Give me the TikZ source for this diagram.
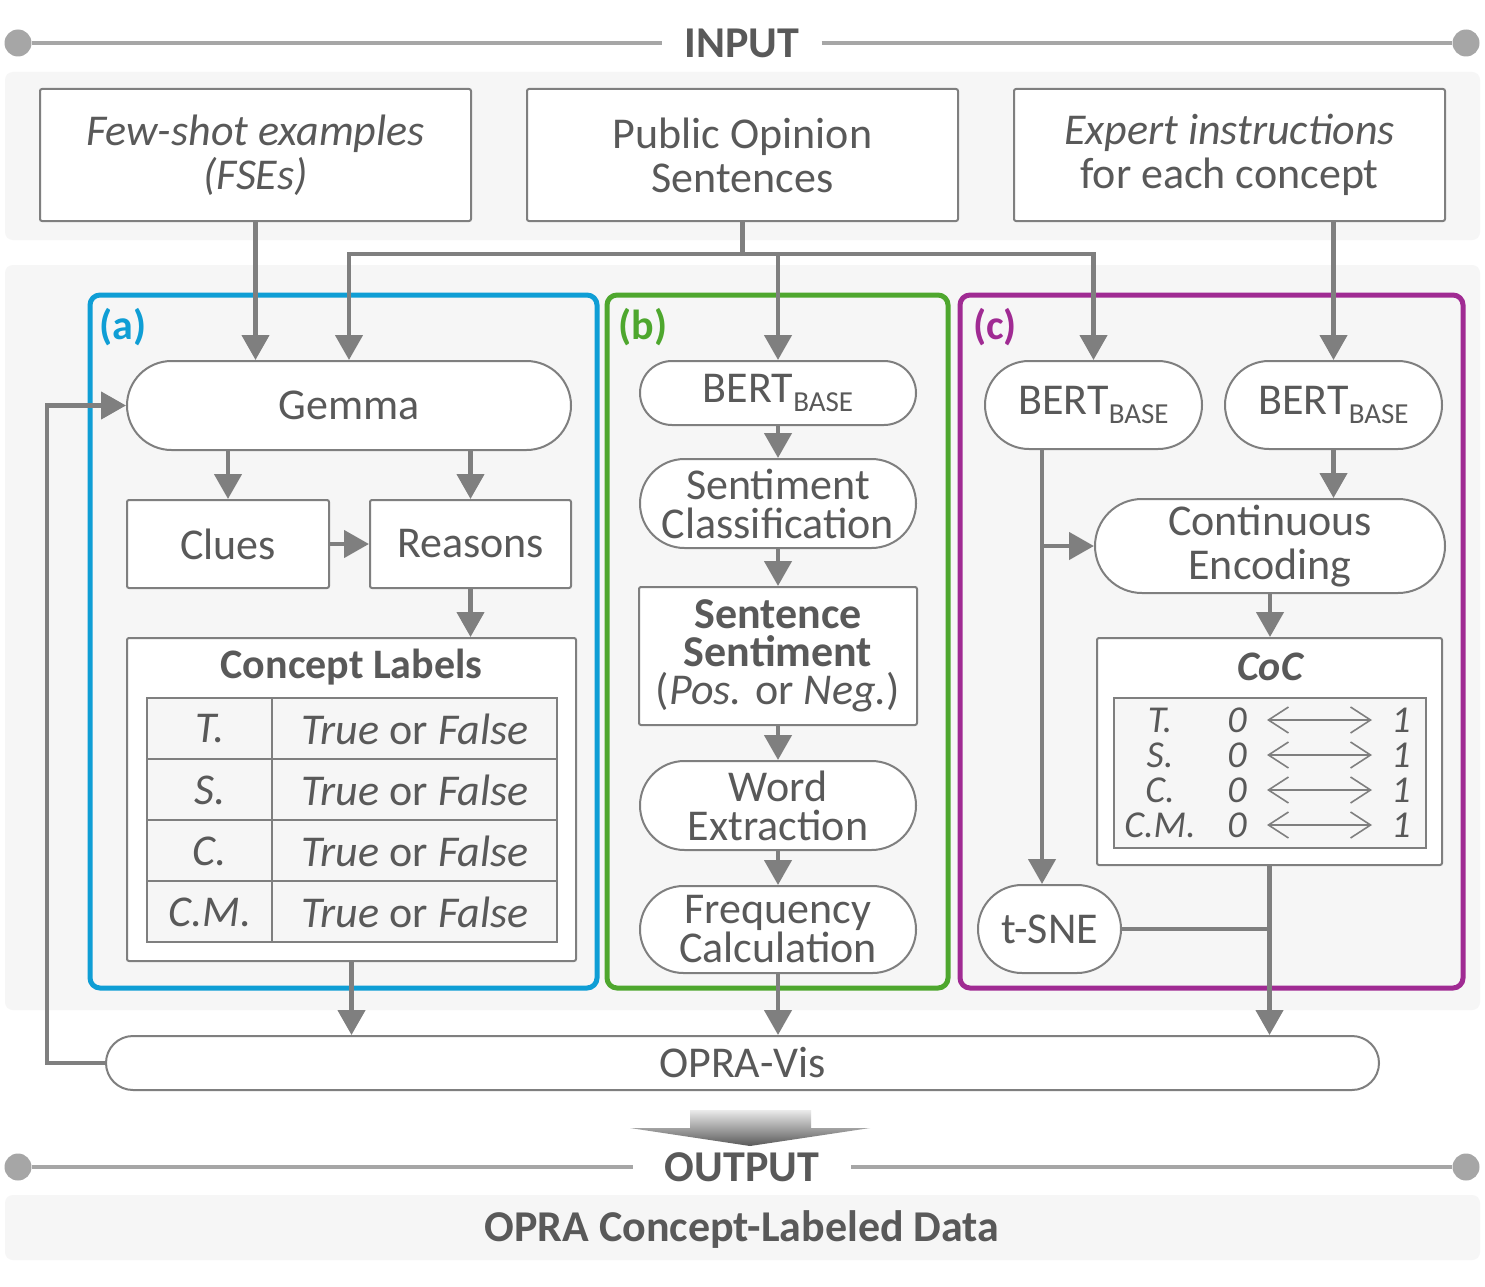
\documentclass[tikz,border=0pt]{standalone}
\usepackage{fontspec}
\setmainfont{Carlito}
\usetikzlibrary{arrows.meta,shapes.misc,calc}
\definecolor{txt}{HTML}{595959}
\definecolor{ln}{HTML}{7F7F7F}
\definecolor{hdr}{HTML}{A6A6A6}
\definecolor{bg}{HTML}{F6F6F6}
\definecolor{cA}{HTML}{0F9ED5}
\definecolor{cB}{HTML}{4EA72E}
\definecolor{cC}{HTML}{A02B93}
\newcommand{\fsz}[2]{\fontsize{#1}{#2}\selectfont}
\newcommand{\bertbase}{BERT\raisebox{-9pt}{\fsz{29}{29}BASE}}
\tikzset{
  box/.style={draw=ln, line width=2pt, fill=white, rounded corners=2pt, inner sep=0pt,
    align=center, text=txt, font=\fsz{44}{44}},
  pill/.style={draw=ln, line width=2pt, fill=white, rounded rectangle, inner sep=0pt,
    align=center, text=txt, font=\fsz{44}{44}},
  tpill/.style={pill, font=\fsz{44}{39}},
  arr/.style={draw=ln, line width=4.5pt, -{Triangle[width=27pt,length=25pt]}},
  lnk/.style={draw=ln, line width=4.5pt},
  band/.style={fill=bg, rounded corners=8pt},
  frame/.style={line width=5pt, rounded corners=10pt},
  hline/.style={draw=hdr, line width=4.5pt},
  dot/.style={circle, fill=hdr, minimum size=27pt, inner sep=0pt},
  hdrtext/.style={text=txt, font=\bfseries\fsz{44}{44}},
  lbl/.style={font=\bfseries\fsz{42}{42}},
  cell/.style={text=txt, font=\itshape\fsz{44}{44}, inner sep=0pt},
  coccell/.style={text=txt, font=\itshape\fsz{38}{38}, inner sep=0pt},
  dbl/.style={draw=ln, line width=1.6pt, {Straight Barb[length=20pt,width=26pt,line width=1.6pt]}-{Straight Barb[length=20pt,width=26pt,line width=1.6pt]}},
}
\begin{document}
\begin{tikzpicture}[x=1pt,y=-1pt]
\useasboundingbox (0,0) rectangle (1485,1287);
\fill[white] (0,0) rectangle (1485,1287);

% bands
\fill[band] (5,72) rectangle (1480,240);
\fill[band] (5,265) rectangle (1480,1010);
\fill[band] (5,1195) rectangle (1480,1260);

% INPUT header
\node[dot] (inl) at (18,43) {};
\node[dot] (inr) at (1466,43) {};
\node[hdrtext, inner xsep=22pt] (inT) at (742,43) {INPUT};
\draw[hline] (inl) -- (inT) (inT) -- (inr);

% input boxes
\node[box, minimum width=431, minimum height=132] (fse) at (255.5,155)
  {\textit{Few-shot examples}\\\textit{(FSEs)}};
\node[box, minimum width=431, minimum height=132] (pos) at (742.5,155)
  {Public Opinion\\Sentences};
\node[box, minimum width=431, minimum height=132] (exp) at (1229.5,155)
  {\textit{Expert instructions}\\for each concept};

% frames
\draw[frame, cA] (90,295) rectangle (597,988);
\draw[frame, cB] (607,295) rectangle (948,988);
\draw[frame, cC] (960,295) rectangle (1463,988);
\node[lbl, text=cA] (la) at (123,327) {(a)};
\node[lbl, text=cB] (lb) at (643,327) {(b)};
\node[lbl, text=cC] (lc) at (995,327) {(c)};

% (a)
\node[pill, minimum width=444, minimum height=89] (gemma) at (349,405.5) {Gemma};
\node[box, minimum width=202, minimum height=88] (clues) at (228,544) {Clues};
\node[box, minimum width=201, minimum height=88] (reasons) at (470.5,544) {Reasons};
\node[box, minimum width=449, minimum height=323] (cl) at (351.5,799.5) {};
\node[text=txt, font=\bfseries\fsz{42}{42}] (clt) at (351.5,667) {Concept Labels};
\node[draw=ln, line width=2pt, fill=bg, minimum width=410, minimum height=244, inner sep=0pt] (tbl) at (352,820) {};
\draw[ln, line width=2pt] (147,759) -- (557,759) (147,820) -- (557,820) (147,881) -- (557,881)
  (272,698) -- (272,942);
\foreach \k/\t [count=\i from 0] in {t/T., s/S., c/C., cm/C.M.}{
  \node[cell] (lab\k) at (210,729+61*\i) {\t};
  \node[cell] (val\k) at (415,729+61*\i) {True \textup{or} False};
}

% (b)
\node[pill, minimum width=276, minimum height=64] (bertb) at (778,393) {\bertbase};
\node[tpill, minimum width=276, minimum height=89] (sc) at (778,503.5) {Sentiment\\Classification};
\node[box, minimum width=278, minimum height=138, font=\fsz{44}{38}] (ss) at (778,656)
  {\textbf{Sentence}\\\textbf{Sentiment}\\(\textit{Pos.} or \textit{Neg.})};
\node[tpill, minimum width=276, minimum height=89] (we) at (778,805.5) {Word\\Extraction};
\node[tpill, minimum width=276, minimum height=87] (fc) at (778,929.5) {Frequency\\Calculation};

% (c)
\node[pill, minimum width=217, minimum height=88] (bert1) at (1093.5,405) {\bertbase};
\node[pill, minimum width=217, minimum height=88] (bert2) at (1333.5,405) {\bertbase};
\node[pill, minimum width=350, minimum height=94] (ce) at (1270,546) {Continuous\\Encoding};
\node[box, minimum width=345, minimum height=227] (cocbox) at (1269.5,751.5) {};
\node[text=txt, font=\bfseries\itshape\fsz{42}{42}] (coct) at (1270,667) {CoC};
\node[draw=ln, line width=2pt, fill=bg, minimum width=312, minimum height=150, inner sep=0pt] (coctbl) at (1269.5,772.5) {};
\foreach \k/\t [count=\i from 0] in {t/T., s/S., c/C., cm/C.M.}{
  \node[coccell] (cname\k) at (1160,720+35*\i) {\t};
  \node[coccell] (czero\k) at (1237,720+35*\i) {0};
  \node[coccell] (cone\k) at (1401,720+35*\i) {1};
  \draw[dbl] (1267,720+35*\i) -- (1372,720+35*\i);
}
\node[pill, minimum width=143, minimum height=88] (tsne) at (1049.5,929) {t-SNE};

% OPRA-Vis
\node[pill, minimum width=1273, minimum height=54] (opra) at (742.5,1063) {OPRA-Vis};

% connectors
\coordinate (hub) at (742.5,254);
\draw[arr] (fse.south) -- (fse.south |- gemma.north);
\draw[lnk] (pos.south) -- (hub);
\draw[arr] (hub) -| (gemma.north);
\draw[arr] (hub) -| (bertb.north);
\draw[arr] (hub) -| (bert1.north);
\draw[arr] (exp.south -| bert2.north) -- (bert2.north);

\draw[arr] (clues.north |- gemma.south) -- (clues.north);
\draw[arr] (reasons.north |- gemma.south) -- (reasons.north);
\draw[arr] (clues.east) -- (reasons.west);
\draw[arr] (reasons.south) -- (reasons.south |- cl.north);
\draw[arr] (cl.south) -- (cl.south |- opra.north);
\coordinate (fb) at (47,0);
\draw[arr] (opra.west) -- (opra.west -| fb) |- (gemma.west);

\draw[arr] (bertb.south) -- (sc.north);
\draw[arr] (sc.south) -- (ss.north);
\draw[arr] (ss.south) -- (we.north);
\draw[arr] (we.south) -- (fc.north);
\draw[arr] (fc.south) -- (fc.south |- opra.north);

\coordinate (c1) at (1042,449);
\draw[arr] (c1) -- (c1 |- tsne.north);
\draw[arr] (c1 |- ce.west) -- (ce.west);
\draw[arr] (bert2.south) -- (bert2.south |- ce.north);
\draw[arr] (ce.south) -- (ce.south |- cocbox.north);
\draw[arr] (cocbox.south) -- (cocbox.south |- opra.north);
\draw[lnk] (tsne.east) -- (tsne.east -| cocbox.south);

% gradient arrow
\shade[top color=black!8, bottom color=txt]
  (690,1110) -- (811,1110) -- (811,1128) -- (870,1128) -- (750,1146) -- (630,1128) -- (690,1128) -- cycle;

% OUTPUT header
\node[dot] (outl) at (18,1167) {};
\node[dot] (outr) at (1466,1167) {};
\node[hdrtext, inner xsep=32pt] (outT) at (742,1167) {OUTPUT};
\draw[hline] (outl) -- (outT) (outT) -- (outr);

\node[hdrtext] (data) at (742,1230) {OPRA Concept-Labeled Data};
\end{tikzpicture}
\end{document}
